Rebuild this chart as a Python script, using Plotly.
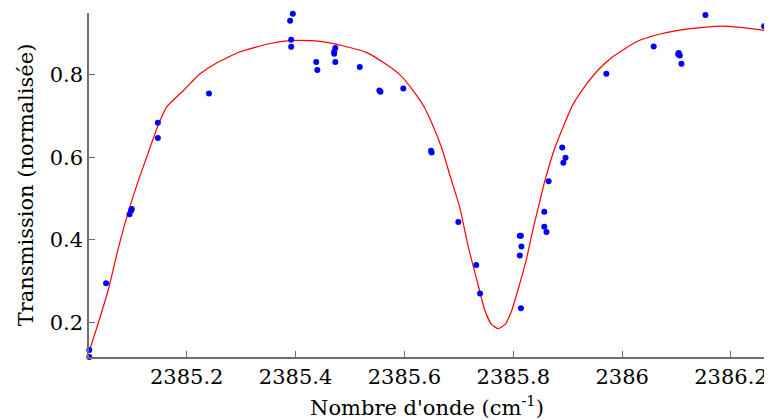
import plotly.graph_objects as go

# Measured points
meas_x = [2385.021, 2385.021, 2385.052, 2385.095, 2385.098, 2385.099, 2385.147, 2385.147,
          2385.241, 2385.395, 2385.390, 2385.392, 2385.392, 2385.438, 2385.440, 2385.473,
          2385.471, 2385.471, 2385.473, 2385.518, 2385.554, 2385.556, 2385.598, 2385.649,
          2385.650, 2385.699, 2385.732, 2385.739, 2385.812, 2385.814, 2385.815, 2385.812,
          2385.814, 2385.857, 2385.857, 2385.861, 2385.865, 2385.890, 2385.896, 2385.892,
          2385.971, 2386.058, 2386.104, 2386.106, 2386.103, 2386.109, 2386.153, 2386.261]
meas_y = [0.133, 0.116, 0.295, 0.462, 0.471, 0.475, 0.684, 0.647,
          0.755, 0.948, 0.931, 0.885, 0.868, 0.831, 0.812, 0.865,
          0.856, 0.851, 0.831, 0.819, 0.762, 0.759, 0.767, 0.616,
          0.612, 0.443, 0.339, 0.270, 0.410, 0.410, 0.384, 0.362,
          0.234, 0.468, 0.432, 0.419, 0.542, 0.624, 0.599, 0.587,
          0.803, 0.869, 0.853, 0.847, 0.850, 0.827, 0.945, 0.918]

# Fitted curve
fit_x = [2385.021, 2385.037, 2385.056, 2385.074, 2385.093, 2385.111, 2385.129, 2385.147,
         2385.163, 2385.194, 2385.224, 2385.255, 2385.298, 2385.353, 2385.390, 2385.426,
         2385.445, 2385.488, 2385.531, 2385.567, 2385.592, 2385.616, 2385.635, 2385.653,
         2385.669, 2385.683, 2385.702, 2385.717, 2385.733, 2385.748, 2385.760, 2385.772,
         2385.785, 2385.797, 2385.812, 2385.824, 2385.837, 2385.848, 2385.858, 2385.877,
         2385.892, 2385.910, 2385.935, 2385.959, 2385.984, 2386.027, 2386.070, 2386.119,
         2386.180, 2386.217, 2386.261]
fit_y = [0.130, 0.196, 0.279, 0.378, 0.469, 0.543, 0.610, 0.676,
         0.722, 0.762, 0.802, 0.829, 0.856, 0.876, 0.883, 0.883,
         0.881, 0.870, 0.854, 0.825, 0.800, 0.762, 0.725, 0.675,
         0.621, 0.559, 0.477, 0.385, 0.303, 0.228, 0.195, 0.185,
         0.195, 0.228, 0.294, 0.352, 0.430, 0.489, 0.543, 0.625,
         0.675, 0.729, 0.778, 0.816, 0.845, 0.881, 0.899, 0.911,
         0.918, 0.915, 0.908]

x_ticks = [2385.2, 2385.4, 2385.6, 2385.8, 2386.0, 2386.2]
x_tick_labels = ["2385.2", "2385.4", "2385.6", "2385.8", "2386", "2386.2"]
y_ticks = [0.2, 0.4, 0.6, 0.8]
y_tick_labels = ["0.2", "0.4", "0.6", "0.8"]

FONT = "DejaVu Serif"
AX = "#6e6e6e"

fig = go.Figure()
fig.add_trace(go.Scatter(x=fit_x, y=fit_y, mode="lines",
                         line=dict(color="#ff0000", width=1.2, shape="spline", smoothing=0.5),
                         hoverinfo="skip"))
fig.add_trace(go.Scatter(x=meas_x, y=meas_y, mode="markers", cliponaxis=False,
                         marker=dict(color="#0000ff", size=6, line=dict(width=0))))

# page body adds an 8px offset; figure sized to fit the 772x420 window
fig.update_layout(
    width=764, height=412,
    margin=dict(l=81, r=7, t=5, b=63),
    paper_bgcolor="white", plot_bgcolor="white",
    showlegend=False,
    font=dict(family=FONT, size=21, color="black"),
    xaxis=dict(range=[2385.0205, 2386.2625], tickvals=x_ticks, ticktext=x_tick_labels,
               ticks="inside", ticklen=6, tickwidth=1, tickcolor=AX, automargin=False,
               showline=True, linecolor=AX, linewidth=1.5, showgrid=False, zeroline=False,
               title=dict(text="Nombre d'onde (cm<sup>-1</sup>)", standoff=12,
                          font=dict(family=FONT, size=21))),
    yaxis=dict(range=[0.116, 0.950], tickvals=y_ticks, ticktext=y_tick_labels,
               ticks="inside", ticklen=6, tickwidth=1, tickcolor=AX, automargin=False,
               showline=True, linecolor=AX, linewidth=1.5, showgrid=False, zeroline=False,
               title=dict(text="Transmission (normalisée)", standoff=10,
                          font=dict(family=FONT, size=21))),
)

fig.write_html("out.html")
